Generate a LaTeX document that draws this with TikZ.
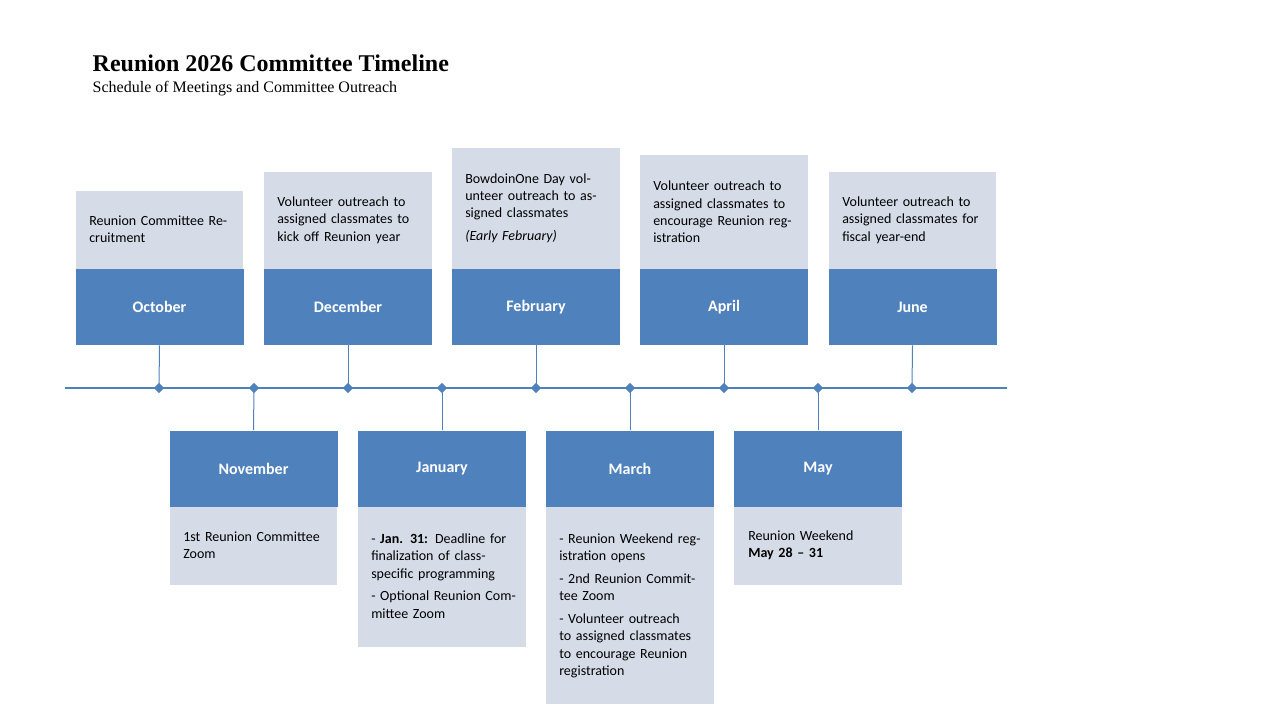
\documentclass[tikz,border=0pt]{standalone}
\usepackage{fontspec}
\usetikzlibrary{shapes.geometric}
\setmainfont{Carlito}
\newfontfamily\titlefont{Liberation Serif}
\definecolor{dk}{HTML}{4F81BD}
\definecolor{lt}{HTML}{D5DCE8}
\begin{document}
\begin{tikzpicture}[x=0.75pt,y=-0.75pt,
  mon/.style={fill=dk,draw=none,minimum width=126pt,minimum height=57pt,text=white,font=\fontsize{12}{14}\selectfont\bfseries,inner sep=0},
  txt/.style={anchor=west,text width=110pt,align=left,font=\fontsize{10.5}{13}\selectfont,inner sep=0},
  conn/.style={draw=dk,line width=0.75pt},
  dia/.style={diamond,fill=dk,draw=none,minimum size=8pt,inner sep=0}]
\useasboundingbox (0,0) rectangle (1280,720);
\node[anchor=west,font=\titlefont\fontsize{18}{20}\selectfont\bfseries] (title) at (88,63) {Reunion 2026 Committee Timeline};
\node[anchor=west,font=\titlefont\fontsize{12}{14}\selectfont] (sub) at (88,89) {Schedule of Meetings and Committee Outreach};
% timeline
\coordinate (l0) at (65,388); \coordinate (l1) at (1007,388);
\draw[dk,line width=2pt] (l0)--(l1);
% top light boxes
\fill[lt] (76,191) rectangle (243,269);
\fill[lt] (264,172) rectangle (432,269);
\fill[lt] (452,148) rectangle (620,269);
\fill[lt] (640,155) rectangle (808,269);
\fill[lt] (829,172) rectangle (996,269);
% bottom light boxes
\fill[lt] (170,506) rectangle (337,585);
\fill[lt] (358,506) rectangle (526,647);
\fill[lt] (546,506) rectangle (714,704);
\fill[lt] (734,506) rectangle (902,585);
% dark
\node[mon] (oct) at (159.5,307) {October};
\node[mon] (dec) at (348,307) {December};
\node[mon] (feb) at (536,307) {February};
\node[mon] (apr) at (724,307) {April};
\node[mon] (jun) at (912.5,307) {June};
\node[mon] (nov) at (253.5,468.5) {November};
\node[mon] (jan) at (442,468.5) {January};
\node[mon] (mar) at (630,468.5) {March};
\node[mon] (may) at (818,468.5) {May};
% diamonds
\foreach \n/\x in {d1/159,d2/254,d3/348,d4/442,d5/536,d6/630,d7/724,d8/818,d9/912}
  \coordinate (\n) at (\x,388);
\draw[conn] (oct.south)--(d1);
\draw[conn] (dec.south)--(d3);
\draw[conn] (feb.south)--(d5);
\draw[conn] (apr.south)--(d7);
\draw[conn] (jun.south)--(d9);
\draw[conn] (nov.north)--(d2);
\draw[conn] (jan.north)--(d4);
\draw[conn] (mar.north)--(d6);
\draw[conn] (may.north)--(d8);
\foreach \n in {d1,d2,d3,d4,d5,d6,d7,d8,d9}
  \node[dia] at (\n) {};
% texts
\node[txt] (t1) at (89,229) {Reunion Committee Recruitment};
\node[txt] (t2) at (277,220) {Volunteer outreach to assigned classmates to kick off Reunion year};
\node[txt] (t3) at (465,208) {BowdoinOne Day volunteer outreach to assigned classmates\\[4pt]\textit{(Early February)}};
\node[txt] (t4) at (653,212) {Volunteer outreach to assigned classmates to encourage Reunion registration};
\node[txt] (t5) at (842,220) {Volunteer outreach to assigned classmates for fiscal year-end};
\node[txt] (b1) at (183,545) {1st Reunion Committee Zoom};
\node[txt] (b2) at (371,576) {- \textbf{Jan. 31:} Deadline for finalization of class-specific programming\\[4pt]- Optional Reunion Committee Zoom};
\node[txt] (b3) at (559,606) {- Reunion Weekend registration opens\\[4pt]- 2nd Reunion Committee Zoom\\[4pt]- Volunteer outreach to assigned classmates to encourage Reunion registration};
\node[txt] (b4) at (748,545) {Reunion Weekend\\\textbf{May 28 -- 31}};
\end{tikzpicture}
\end{document}
